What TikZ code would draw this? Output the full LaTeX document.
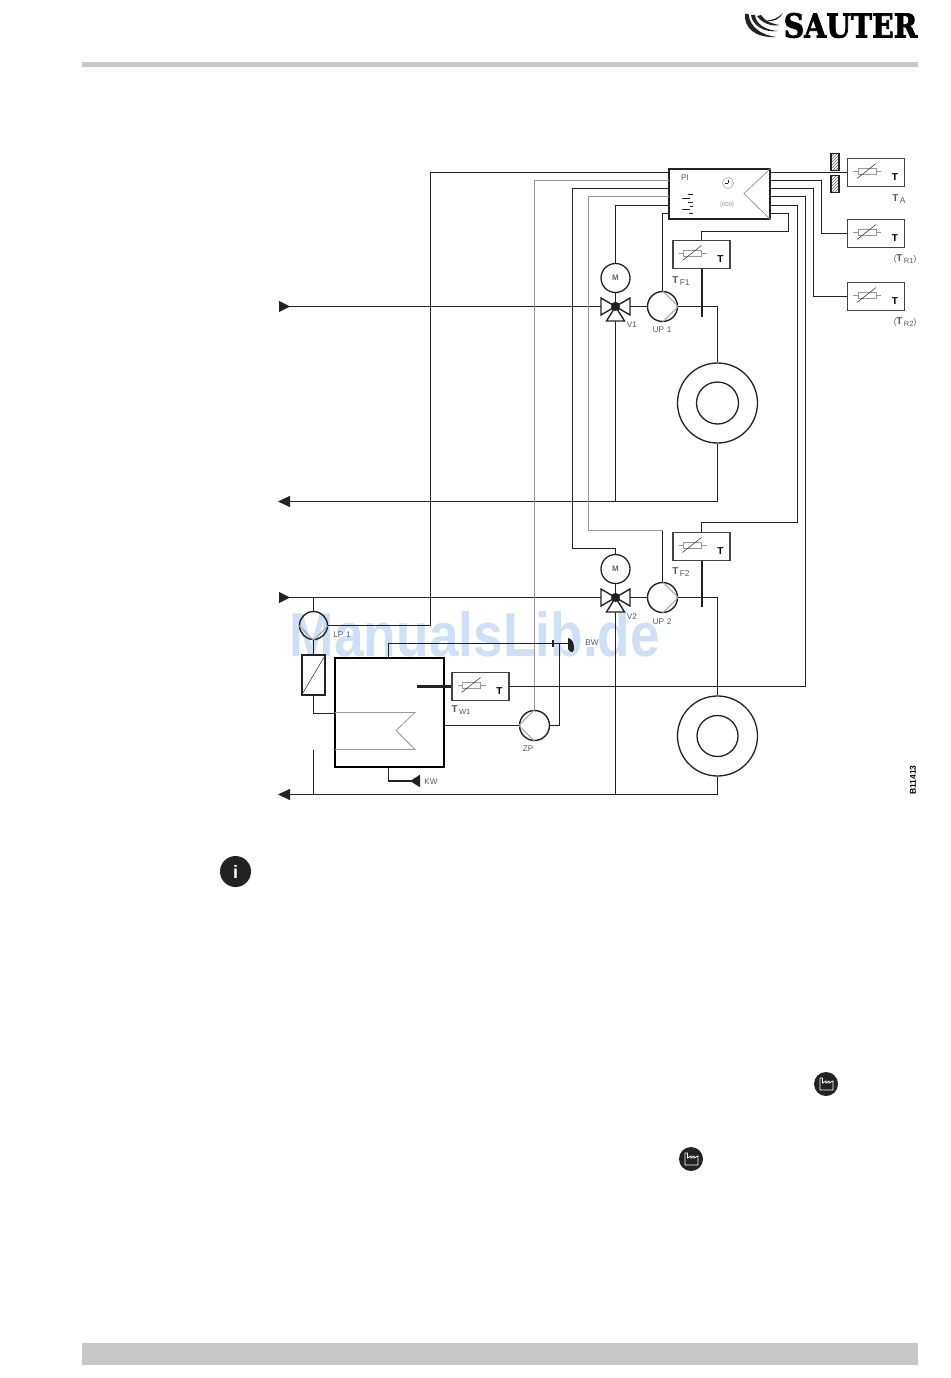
\documentclass[tikz,border=0pt]{standalone}
\usepackage{fontspec}
\setmainfont{Liberation Sans}
\newfontfamily\slabfont[BoldFont={DejaVu Serif Bold},BoldFeatures={FakeBold=2.4}]{DejaVu Serif}
\usetikzlibrary{arrows.meta,patterns}

\definecolor{inkgray}{HTML}{222222}
\definecolor{midgray}{HTML}{999999}
\definecolor{bargray}{HTML}{C8C8C8}
\definecolor{markblue}{HTML}{CFE0F6}

\newcommand{\tsub}[2]{{\fontsize{10}{10}\selectfont\bfseries T}\,{\fontsize{#2}{#2}\selectfont\raisebox{-2.5pt}{#1}}}

\tikzset{
	pipe/.style={draw=inkgray,line width=1pt},
	thinline/.style={draw=midgray,line width=.8pt},
	probe/.style={draw=inkgray,line width=2.4pt},
	sensorbox/.style={draw=inkgray!85,line width=1.5pt,minimum width=57pt,minimum height=28pt,inner sep=0pt},
	pumpnode/.style={circle,draw=inkgray,line width=1.4pt,minimum size=30pt,inner sep=0pt},
	motornode/.style={circle,draw=inkgray,line width=1.3pt,minimum size=29pt,inner sep=0pt,text=inkgray!70,font=\fontsize{8}{8}\selectfont\bfseries},
	ringnode/.style={circle,draw=inkgray,line width=1.3pt,inner sep=0pt},
	valvedot/.style={circle,fill=inkgray,minimum size=9pt,inner sep=0pt},
	lbl/.style={inner sep=0pt,text=inkgray!75,font=\fontsize{8.2}{8.2}\selectfont},
	tipin/.style={{Triangle[reversed,length=11pt,width=11pt]}-},
	tipout/.style={-{Triangle[length=12pt,width=11pt]}},
}

\begin{document}
\begin{tikzpicture}[x=1pt,y=-1pt]
	\useasboundingbox (0,0) rectangle (950,1378);

	\node[inner sep=0pt,text=markblue,font=\fontsize{62}{62}\selectfont\bfseries] (mark) at (475,634) {\scalebox{.86}[1]{ManualsLib.de}};

	\fill[bargray] (82,62) rectangle (918,67);
	\fill[bargray] (82,1343) rectangle (918,1365);
	\node[inner sep=0pt,font=\fontsize{33}{33}\selectfont\slabfont\bfseries] (logo) at (850.5,25.5) {\scalebox{.86}[1]{SAUTER}};
	\fill[inkgray] (745,14) .. controls (744,28) and (755,38) .. (776,37) .. controls (762,35) and (750,28) .. (748.5,14) -- cycle;
	\fill[inkgray] (751,15) .. controls (752,25) and (764,33) .. (778,31) .. controls (765,30) and (756,24) .. (755,15) -- cycle;
	\fill[inkgray] (757,16) .. controls (761,22) and (770,27) .. (780,25) .. controls (771,24) and (764,20) .. (761,15) -- cycle;
	\fill[inkgray] (783,13) .. controls (778,18) and (772,21) .. (766,20) .. controls (773,23) and (780,19) .. (783,13) -- cycle;

	\node[draw=inkgray,line width=1.2pt,minimum width=101pt,minimum height=50pt,inner sep=0pt] (PI) at (719.5,194) {};
	\node[lbl] (PItxt) at (685,178) {PI};
	\node[lbl,text=midgray,font=\fontsize{6}{6}\selectfont] (PIcode) at (727,205) {[000]};
	\node[circle,draw=midgray,line width=.5pt,minimum size=11pt,inner sep=0pt] (PIclock) at (728,183) {};
	\draw[inkgray,line width=.6pt] (PIclock.center) -- ++(0,-3) (PIclock.center) -- ++(-3,0);
	\draw[thinline] (PI.north east) -- (744,193.5) -- (PI.south east);
	\foreach \xa/\xb/\y in {688/693/194,682/690/198,688/693/202,690/693/206,682/690/209,689/693/213}
		\draw[inkgray,line width=.7pt] (\xa,\y) -- (\xb,\y);

	\foreach \n/\y in {1/172.5,2/180.5,3/188.5,4/196.5,5/205.5,6/213.5} {
		\coordinate (PIl\n) at (669,\y);
		\coordinate (PIr\n) at (770,\y);
	}

	\foreach \n/\x/\y in {TA/876/172.5,TR1/876/233.5,TR2/876/296.5,TF1/701.5/254.5,TF2/701.5/546.5,TW1/480.5/686.5} {
		\node[sensorbox] (\n) at (\x,\y) {};
		\draw[thinline] (\n) ++(-18,-1) -- ++(-5,0) (\n) ++(0,-1) -- ++(5,0);
		\draw[thinline,fill=white] (\n) ++(-18,-4) rectangle ++(18,6);
		\draw[inkgray,line width=.5pt] (\n) ++(-19,6) -- ++(19,-15);
		\node[inner sep=0pt,font=\fontsize{10}{10}\selectfont\bfseries] (\n txt) at ([xshift=19pt,yshift=-5pt]\n) {T};
	}
	\node[lbl] (TAl) at (899,199) {\tsub{A}{8.5}};
	\node[lbl] (TR1l) at (905,259) {(\tsub{R1}{7.5})};
	\node[lbl] (TR2l) at (905,322) {(\tsub{R2}{7.5})};
	\node[lbl] (TF1l) at (681,281) {\tsub{F1}{8.5}};
	\node[lbl] (TF2l) at (681,572) {\tsub{F2}{8.5}};
	\node[lbl] (TW1l) at (461,710) {\tsub{W1}{7.5}};

	\foreach \n/\x/\y in {M1/615.5/278,M2/615.5/569}
		\node[motornode] (\n) at (\x,\y) {M};

	\foreach \n/\x/\y in {V1/615.5/306.5,V2/615.5/597.5}
		\node[valvedot] (\n) at (\x,\y) {};

	\foreach \n/\x/\y in {UP1/662.5/306.5,UP2/662.5/597.5} {
		\node[pumpnode] (\n) at (\x,\y) {};
		\draw[thinline] (\n.north) -- (\n.east) -- (\n.south);
	}
	\node[pumpnode] (ZP) at (534.5,725.5) {};
	\draw[thinline] (ZP.north) -- (ZP.west) -- (ZP.south);
	\node[pumpnode,minimum size=28pt] (LP) at (313.5,625.5) {};
	\draw[thinline] (LP.west) -- (LP.south) -- (LP.east);

	\foreach \n/\x/\y/\ra/\rb in {Ra/717.5/403/80/42,Rb/717.5/736/80/41} {
		\node[ringnode,minimum size=\ra pt] (\n) at (\x,\y) {};
		\node[ringnode,minimum size=\rb pt] (\n i) at (\x,\y) {};
	}

	\node[draw=inkgray,line width=1.6pt,minimum width=23pt,minimum height=40pt,inner sep=0pt] (HX) at (313.5,675) {};
	\draw[inkgray,line width=.5pt] (HX.south west) -- (HX.north east);
	\node[draw=black,line width=1.9pt,minimum width=109pt,minimum height=109pt,inner sep=0pt] (tank) at (389.5,712.5) {};
	\coordinate (coilA) at (335,712.5);
	\coordinate (coilB) at (335,749.5);
	\draw[thinline] (coilA) -- (415,712.5) -- (396,730.5) -- (415,749.5) -- (coilB);

	\node[lbl] (V1l) at (632,325) {V1};
	\node[lbl] (V2l) at (632,617) {V2};
	\node[lbl] (UP1l) at (662,330) {UP\,\,1};
	\node[lbl] (UP2l) at (662,622) {UP\,\,2};
	\node[lbl] (LPl) at (342,635) {LP\,\,1};
	\node[lbl] (ZPl) at (528,749) {ZP};
	\node[lbl] (BWl) at (592,643) {BW};
	\node[lbl] (KWl) at (431,782) {KW};
	\node[rotate=90,inner sep=0pt,font=\fontsize{8.5}{8.5}\selectfont\bfseries] (code) at (913,780) {B11413};

	\coordinate (inA) at (279,306.5);
	\coordinate (inB) at (279,597.5);
	\coordinate (outA) at (278,501.5);
	\coordinate (outB) at (278,794.5);
	\coordinate (jA) at (615.5,501.5);
	\coordinate (jB) at (615.5,794.5);
	\coordinate (jC) at (313.5,597.5);
	\coordinate (jD) at (313.5,794.5);
	\coordinate (jE) at (313.5,750);
	\coordinate (hxB) at (335,713.5);

	\draw[pipe,tipin] (inA) -- (V1);
	\draw[pipe,tipin] (inB) -- (V2);
	\draw[pipe,tipout] (Ra.south) |- (outA);
	\draw[pipe,tipout] (Rb.south) |- (outB);
	\draw[pipe] (V1) -- (jA);
	\draw[pipe] (V2) -- (jB);
	\draw[pipe] (M1) -- (V1);
	\draw[pipe] (M2) -- (V2);
	\draw[pipe] (V1) -- (UP1);
	\draw[pipe] (V2) -- (UP2);
	\draw[pipe] (UP1) -| (Ra.north);
	\draw[pipe] (UP2) -| (Rb.north);

	\coordinate (pFa) at (702,317);
	\coordinate (pFb) at (702,607);
	\coordinate (pW) at (417,686.5);
	\draw[probe] (TF1.south -| pFa) -- (pFa);
	\draw[probe] (TF2.south -| pFb) -- (pFb);
	\draw[probe] (TW1.west) -- (pW);

	\coordinate (kA) at (430.5,625.5);
	\coordinate (kB) at (534.5,180.5);
	\coordinate (kC) at (572.5,548.5);
	\coordinate (kD) at (588.5,530.5);
	\coordinate (kE) at (662.5,530.5);
	\draw[pipe] (PIl1) -| (kA) -- (LP.east);
	\draw[thinline] (PIl2) -- (kB) -- (ZP.north);
	\draw[pipe] (PIl3) -| (kC) -| (M2.north);
	\draw[thinline] (PIl4) -| (kD) -- (kE);
	\draw[pipe] (kE) -- (UP2.north);
	\draw[pipe] (PIl5) -| (M1.north);
	\draw[pipe] (PIl6) -| (UP1.north);

	\coordinate (kF) at (821.5,233.5);
	\coordinate (kG) at (813.5,296.5);
	\coordinate (kH) at (805.5,686.5);
	\coordinate (kI) at (797.5,522.5);
	\coordinate (kJ) at (788.5,231.5);
	\draw[pipe] (PIr1) -- (TA.west);
	\draw[pipe] (PIr2) -| (kF) -- (TR1.west);
	\draw[pipe] (PIr3) -| (kG) -- (TR2.west);
	\draw[pipe] (PIr4) -| (kH) -- (TW1.east);
	\draw[pipe] (PIr5) -| (kI) -| (TF2.north);
	\draw[pipe] (PIr6) -| (kJ) -| (TF1.north);

	\foreach \n/\x/\y in {V1/615.5/306.5,V2/615.5/597.5} {
		\draw[inkgray,fill=white,line width=1.4pt] (\x,\y) -- ++(-14.5,-8.5) -- ++(0,17) -- cycle;
		\draw[inkgray,fill=white,line width=1.4pt] (\x,\y) -- ++(14.5,-8.5) -- ++(0,17) -- cycle;
		\draw[inkgray,fill=white,line width=1.4pt] (\x,\y) -- ++(-9,14.5) -- ++(18,0) -- cycle;
		\fill[inkgray] (\n) circle[radius=4.5];
	}

	\node[draw=inkgray,line width=1.2pt,pattern=north east lines,pattern color=inkgray!70,minimum width=8pt,minimum height=17.5pt,inner sep=0pt] (wallA) at (835,162) {};
	\node[draw=inkgray,line width=1.2pt,pattern=north east lines,pattern color=inkgray!70,minimum width=8pt,minimum height=17.5pt,inner sep=0pt] (wallB) at (835,184) {};

	\coordinate (bw) at (568,643.5);
	\coordinate (bwU) at (388.5,643.5);
	\coordinate (bwT) at (559.5,643.5);
	\coordinate (kwA) at (388.5,781);
	\coordinate (kwB) at (420,781);
	\coordinate (zpR) at (559.5,725.5);
	\coordinate (barA) at (553,640);
	\coordinate (barB) at (553,647);
	\draw[pipe] (jC) -- (LP.north);
	\draw[pipe] (LP.south) -- (HX.north);
	\draw[pipe] (HX.south) |- (hxB);
	\draw[pipe] (jE) -- (jD);
	\draw[pipe] (tank.north -| bwU) |- (bw);
	\draw[inkgray,line width=1.4pt] (barA) -- (barB);
	\fill[inkgray] (bw) ++(0,-5.5) .. controls +(8,0) and +(8,11) .. ++(0,11) -- cycle;
	\draw[pipe] (tank.east |- ZP) -- (ZP.west);
	\draw[pipe] (ZP.east) -- (zpR) -- (bwT);
	\draw[probe,line width=1.8pt,-{Triangle[reversed,length=10pt,width=12pt]}] (tank.south -| kwA) |- (kwB);

	\node[circle,fill=inkgray,minimum size=31pt,inner sep=0pt,text=white,font=\fontsize{18}{18}\selectfont\bfseries] (info) at (235.5,871.5) {i};
	\foreach \n/\x/\y in {facA/826/1084,facB/691/1159} {
		\node[circle,fill=inkgray,minimum size=24pt,inner sep=0pt] (\n) at (\x,\y) {};
		\draw[white,line width=.8pt] (\n) ++(-6,6) -- ++(0,-12) -- ++(2.5,0) -- ++(0,5) -- ++(3.5,-2) -- ++(0,2) -- ++(3,-2) -- ++(0,2) -- ++(4,-2) -- ++(0,9) -- cycle;
	}
\end{tikzpicture}
\end{document}
